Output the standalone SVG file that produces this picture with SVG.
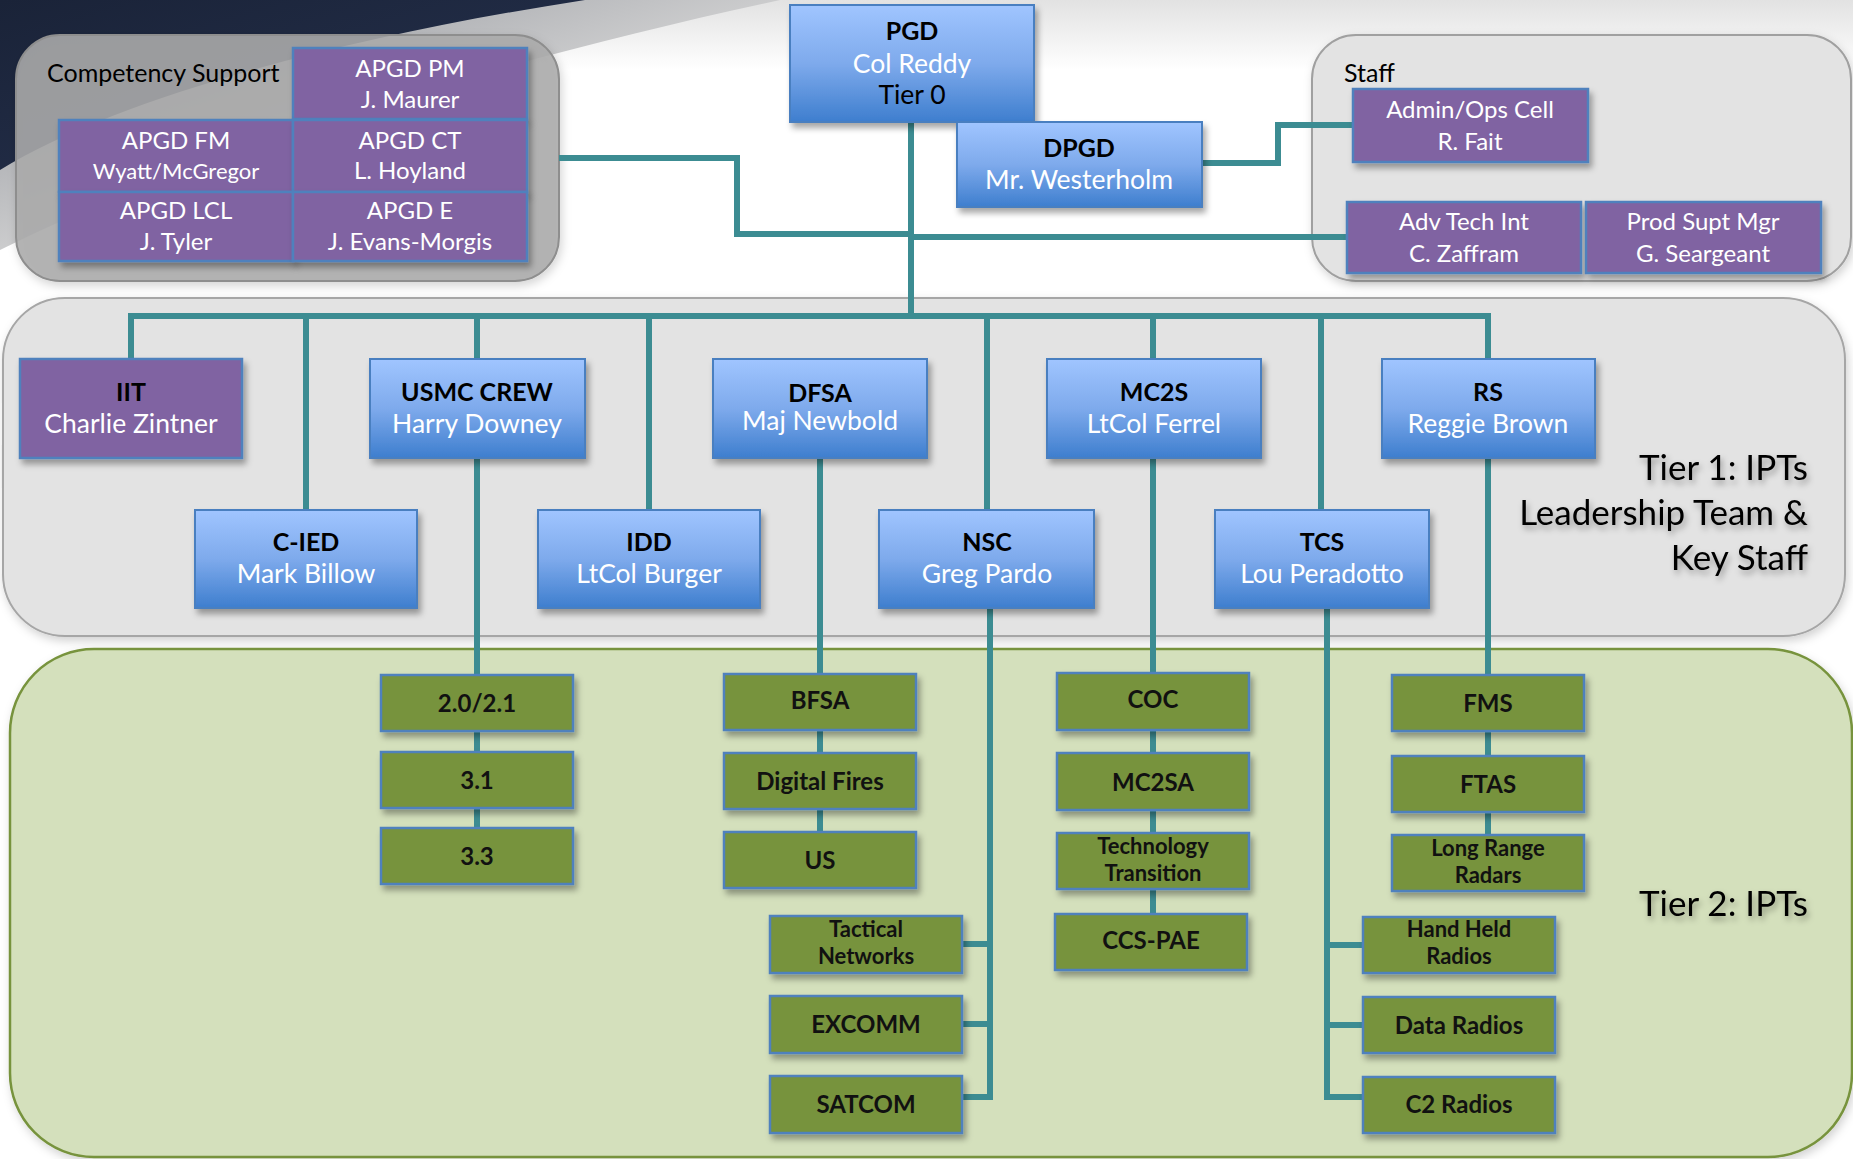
<svg xmlns="http://www.w3.org/2000/svg" width="1853" height="1159" viewBox="0 0 1853 1159">
<defs>
  <linearGradient id="blueGrad" x1="0" y1="0" x2="0" y2="1">
    <stop offset="0" stop-color="#A0C5FF"/>
    <stop offset="0.5" stop-color="#7EAAEC"/>
    <stop offset="1" stop-color="#3E7ECE"/>
  </linearGradient>
  <linearGradient id="topGrad" x1="0" y1="0" x2="0" y2="1">
    <stop offset="0" stop-color="#E2E2E2"/>
    <stop offset="1" stop-color="#FFFFFF"/>
  </linearGradient>
  <linearGradient id="bandGrad" x1="0" y1="0" x2="1" y2="1">
    <stop offset="0" stop-color="#8C8F96"/>
    <stop offset="0.6" stop-color="#D8D8D8"/>
    <stop offset="1" stop-color="#FFFFFF" stop-opacity="0"/>
  </linearGradient>
  <linearGradient id="navyGrad" x1="0" y1="0" x2="1" y2="1">
    <stop offset="0" stop-color="#1A2338"/>
    <stop offset="1" stop-color="#26324F"/>
  </linearGradient>
  <filter id="shadow" x="-10%" y="-10%" width="125%" height="135%">
    <feDropShadow dx="3" dy="5" stdDeviation="3" flood-color="#000" flood-opacity="0.35"/>
  </filter>
  <filter id="boxShadow" x="-5%" y="-5%" width="110%" height="115%">
    <feDropShadow dx="2" dy="4" stdDeviation="5" flood-color="#000" flood-opacity="0.18"/>
  </filter>
  <filter id="textShadow" x="-10%" y="-30%" width="125%" height="170%">
    <feDropShadow dx="2" dy="4" stdDeviation="3" flood-color="#000" flood-opacity="0.35"/>
  </filter>
</defs>
<style>
  text { font-family: Lato, "Liberation Sans", sans-serif; text-anchor: middle; }
  .blue { fill: url(#blueGrad); stroke: #4A7FC0; stroke-width: 2; filter: url(#shadow); }
  .purple { fill: #8064A2; stroke: #4F81BD; stroke-width: 2.5; filter: url(#shadow); }
  .green { fill: #77933C; stroke: #4F81BD; stroke-width: 2.5; filter: url(#shadow); }
  .title { font-weight: bold; font-size: 25px; fill: #000; }
  .name { font-size: 26.5px; fill: #FFF; }
  .cell { font-size: 24px; fill: #FFF; }
  .small { font-size: 22px; }
  .gt { font-weight: bold; font-size: 24px; fill: #111; }
  .gt2 { font-weight: bold; font-size: 22px; fill: #111; }
  .lbl { font-size: 25px; fill: #000; text-anchor: start; }
  .tier { font-size: 35px; fill: #000; text-anchor: end; filter: url(#textShadow); }
  .conn path { fill: none; stroke: #3C8C92; stroke-width: 6; }
</style>

<!-- background -->
<rect x="0" y="0" width="1853" height="1159" fill="#FFFFFF"/>
<rect x="0" y="0" width="1853" height="70" fill="url(#topGrad)"/>
<path d="M0,250 C200,150 500,60 780,0 L0,0 Z" fill="url(#bandGrad)"/>
<path d="M0,170 C120,96 350,36 585,0 L0,0 Z" fill="url(#navyGrad)"/>

<!-- containers -->
<g id="competency-support">
  <rect x="16" y="35" width="543" height="246" rx="44" fill="#ABABAB" fill-opacity="0.88" stroke="#8E8E8E" stroke-width="2" filter="url(#boxShadow)"/>
  <text class="lbl" x="47" y="82">Competency Support</text>
</g>
<g id="staff">
  <rect x="1312" y="35" width="539" height="246" rx="44" fill="#E3E3E3" stroke="#A0A0A0" stroke-width="2" filter="url(#boxShadow)"/>
  <text class="lbl" x="1344" y="82">Staff</text>
</g>
<g id="tier1">
  <rect x="3" y="298" width="1842" height="338" rx="62" fill="#E3E3E3" stroke="#A6A6A6" stroke-width="2" filter="url(#boxShadow)"/>
  <text class="tier" x="1808" y="480">Tier 1: IPTs</text>
  <text class="tier" x="1808" y="525">Leadership Team &amp;</text>
  <text class="tier" x="1808" y="570">Key Staff</text>
</g>
<g id="tier2">
  <rect x="10" y="649" width="1842" height="508" rx="84" fill="#D4E0BC" stroke="#77933C" stroke-width="2.5" filter="url(#boxShadow)"/>
  <text class="tier" x="1808" y="916">Tier 2: IPTs</text>
</g>

<!-- connectors -->
<g id="connectors" class="conn">
  <path d="M911,122 V316"/>
  <path d="M131,359 V316 H1488 V359"/>
  <path d="M306,316 V510"/>
  <path d="M477,316 V359"/>
  <path d="M649,316 V510"/>
  <path d="M987,316 V510"/>
  <path d="M1153,316 V359"/>
  <path d="M1321,316 V510"/>
  <path d="M559,158 H737 V234 H911"/>
  <path d="M911,237 H1347"/>
  <path d="M1202,163 H1278 V125 H1353"/>
  <path d="M477,458 V828"/>
  <path d="M820,458 V832"/>
  <path d="M1153,458 V914"/>
  <path d="M1488,458 V835"/>
  <path d="M990,608 V1097 H962"/>
  <path d="M962,944 H990"/>
  <path d="M962,1024 H990"/>
  <path d="M1327,608 V1097 H1363"/>
  <path d="M1327,945 H1363"/>
  <path d="M1327,1025 H1363"/>
</g>

<!-- tier 0 -->
<g id="pgd">
  <rect class="blue" x="790" y="5" width="244" height="117"/>
  <text class="title" x="912" y="40">PGD</text>
  <text class="name" x="912" y="73">Col Reddy</text>
  <text class="name" x="912" y="104" style="fill:#000">Tier 0</text>
</g>
<g id="dpgd">
  <rect class="blue" x="957" y="122" width="245" height="85"/>
  <text class="title" x="1079" y="157">DPGD</text>
  <text class="name" x="1079" y="189">Mr. Westerholm</text>
</g>

<!-- competency cells -->
<g id="apgd-pm"><rect class="purple" x="293" y="48" width="234" height="71"/><text class="cell" x="410" y="77">APGD PM</text><text class="cell" x="410" y="108">J. Maurer</text></g>
<g id="apgd-fm"><rect class="purple" x="59" y="120" width="234" height="72"/><text class="cell" x="176" y="149">APGD FM</text><text class="cell small" x="176" y="179">Wyatt/McGregor</text></g>
<g id="apgd-ct"><rect class="purple" x="293" y="120" width="234" height="72"/><text class="cell" x="410" y="149">APGD CT</text><text class="cell" x="410" y="179">L. Hoyland</text></g>
<g id="apgd-lcl"><rect class="purple" x="59" y="192" width="234" height="69"/><text class="cell" x="176" y="219">APGD LCL</text><text class="cell" x="176" y="250">J. Tyler</text></g>
<g id="apgd-e"><rect class="purple" x="293" y="192" width="234" height="69"/><text class="cell" x="410" y="219">APGD E</text><text class="cell" x="410" y="250">J. Evans-Morgis</text></g>

<!-- staff cells -->
<g id="admin-ops"><rect class="purple" x="1353" y="89" width="235" height="73"/><text class="cell" x="1470" y="118">Admin/Ops Cell</text><text class="cell" x="1470" y="150">R. Fait</text></g>
<g id="adv-tech"><rect class="purple" x="1347" y="202" width="234" height="71"/><text class="cell" x="1464" y="230">Adv Tech Int</text><text class="cell" x="1464" y="262">C. Zaffram</text></g>
<g id="prod-supt"><rect class="purple" x="1586" y="202" width="235" height="71"/><text class="cell" x="1703" y="230">Prod Supt Mgr</text><text class="cell" x="1703" y="262">G. Seargeant</text></g>

<!-- tier 1 row 1 -->
<g id="iit"><rect class="purple" x="20" y="359" width="222" height="99"/><text class="title" x="131" y="401">IIT</text><text class="name" x="131" y="433">Charlie Zintner</text></g>
<g id="usmc-crew"><rect class="blue" x="370" y="359" width="215" height="99"/><text class="title" x="477" y="401">USMC CREW</text><text class="name" x="477" y="433">Harry Downey</text></g>
<g id="dfsa"><rect class="blue" x="713" y="359" width="214" height="99"/><text class="title" x="820" y="402">DFSA</text><text class="name" x="820" y="430">Maj Newbold</text></g>
<g id="mc2s"><rect class="blue" x="1047" y="359" width="214" height="99"/><text class="title" x="1154" y="401">MC2S</text><text class="name" x="1154" y="433">LtCol Ferrel</text></g>
<g id="rs"><rect class="blue" x="1382" y="359" width="213" height="99"/><text class="title" x="1488" y="401">RS</text><text class="name" x="1488" y="433">Reggie Brown</text></g>

<!-- tier 1 row 2 -->
<g id="c-ied"><rect class="blue" x="195" y="510" width="222" height="98"/><text class="title" x="306" y="551">C-IED</text><text class="name" x="306" y="583">Mark Billow</text></g>
<g id="idd"><rect class="blue" x="538" y="510" width="222" height="98"/><text class="title" x="649" y="551">IDD</text><text class="name" x="649" y="583">LtCol Burger</text></g>
<g id="nsc"><rect class="blue" x="879" y="510" width="215" height="98"/><text class="title" x="987" y="551">NSC</text><text class="name" x="987" y="583">Greg Pardo</text></g>
<g id="tcs"><rect class="blue" x="1215" y="510" width="214" height="98"/><text class="title" x="1322" y="551">TCS</text><text class="name" x="1322" y="583">Lou Peradotto</text></g>

<!-- tier 2 -->
<g id="t2-2021"><rect class="green" x="381" y="675" width="192" height="56"/><text class="gt" x="477" y="712">2.0/2.1</text></g>
<g id="t2-31"><rect class="green" x="381" y="752" width="192" height="56"/><text class="gt" x="477" y="789">3.1</text></g>
<g id="t2-33"><rect class="green" x="381" y="828" width="192" height="56"/><text class="gt" x="477" y="865">3.3</text></g>

<g id="bfsa"><rect class="green" x="724" y="674" width="192" height="56"/><text class="gt" x="820" y="709">BFSA</text></g>
<g id="digital-fires"><rect class="green" x="724" y="753" width="192" height="56"/><text class="gt" x="820" y="790">Digital Fires</text></g>
<g id="us"><rect class="green" x="724" y="832" width="192" height="56"/><text class="gt" x="820" y="869">US</text></g>

<g id="tactical-networks"><rect class="green" x="770" y="916" width="192" height="57"/><text class="gt2" x="866" y="937">Tactical</text><text class="gt2" x="866" y="963.5">Networks</text></g>
<g id="excomm"><rect class="green" x="770" y="996" width="192" height="57"/><text class="gt" x="866" y="1033">EXCOMM</text></g>
<g id="satcom"><rect class="green" x="770" y="1076" width="192" height="57"/><text class="gt" x="866" y="1113">SATCOM</text></g>

<g id="coc"><rect class="green" x="1057" y="673" width="192" height="57"/><text class="gt" x="1153" y="708">COC</text></g>
<g id="mc2sa"><rect class="green" x="1057" y="753" width="192" height="57"/><text class="gt" x="1153" y="791">MC2SA</text></g>
<g id="technology-transition"><rect class="green" x="1057" y="833" width="192" height="56"/><text class="gt2" x="1153" y="854">Technology</text><text class="gt2" x="1153" y="880.5">Transition</text></g>
<g id="ccs-pae"><rect class="green" x="1055" y="914" width="192" height="56"/><text class="gt" x="1151" y="949">CCS-PAE</text></g>

<g id="fms"><rect class="green" x="1392" y="675" width="192" height="56"/><text class="gt" x="1488" y="712">FMS</text></g>
<g id="ftas"><rect class="green" x="1392" y="756" width="192" height="56"/><text class="gt" x="1488" y="793">FTAS</text></g>
<g id="long-range-radars"><rect class="green" x="1392" y="835" width="192" height="56"/><text class="gt2" x="1488" y="856">Long Range</text><text class="gt2" x="1488" y="882.5">Radars</text></g>

<g id="hand-held-radios"><rect class="green" x="1363" y="917" width="192" height="56"/><text class="gt2" x="1459" y="937">Hand Held</text><text class="gt2" x="1459" y="963.5">Radios</text></g>
<g id="data-radios"><rect class="green" x="1363" y="997" width="192" height="56"/><text class="gt" x="1459" y="1034">Data Radios</text></g>
<g id="c2-radios"><rect class="green" x="1363" y="1077" width="192" height="56"/><text class="gt" x="1459" y="1113">C2 Radios</text></g>
</svg>
